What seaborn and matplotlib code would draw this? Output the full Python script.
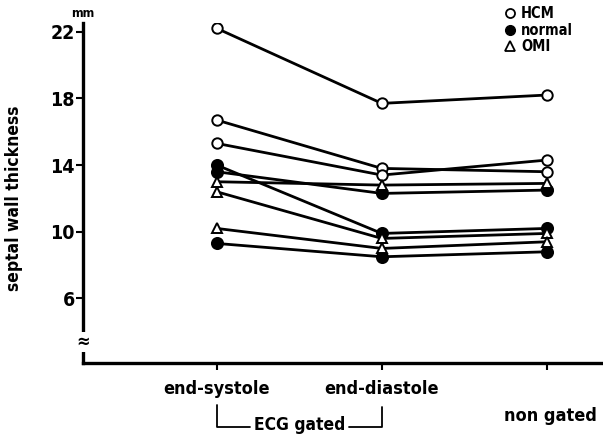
import numpy as np
import pandas as pd
import matplotlib
matplotlib.use("Agg")
import matplotlib.pyplot as plt
import matplotlib.transforms as mtransforms
from matplotlib.lines import Line2D
import seaborn as sns

# Daten (mm), eine Liste pro Patient: end-systole, end-diastole, non gated
phases = ["end-systole", "end-diastole", "non gated"]

hcm_1 = [22.2, 17.7, 18.2]
hcm_2 = [16.7, 13.8, 13.6]
hcm_3 = [15.3, 13.4, 14.3]

normal_1 = [14.0, 9.9, 10.2]
normal_2 = [13.6, 12.3, 12.5]
normal_3 = [9.3, 8.5, 8.8]

omi_1 = [13.0, 12.8, 12.9]
omi_2 = [12.4, 9.6, 9.9]
omi_3 = [10.2, 9.0, 9.4]

y_ticks = [6, 10, 14, 18, 22]

groups = {
    "HCM": [hcm_1, hcm_2, hcm_3],
    "normal": [normal_1, normal_2, normal_3],
    "OMI": [omi_1, omi_2, omi_3],
}

rows = []
for group, subjects in groups.items():
    for i, values in enumerate(subjects):
        for phase, v in zip(phases, values):
            rows.append({"group": group, "subject": f"{group}_{i}",
                         "pos": phases.index(phase), "value": v})
df = pd.DataFrame(rows)

sns.set_style("white")
plt.rcParams["font.family"] = ["DejaVu Sans"]
plt.rcParams["font.stretch"] = "condensed"
plt.rcParams["font.weight"] = "bold"
plt.rcParams["text.color"] = "black"
plt.rcParams["xtick.color"] = "black"
plt.rcParams["ytick.color"] = "black"
plt.rcParams["axes.labelcolor"] = "black"

styles = {
    "HCM":    dict(marker="o", markerfacecolor="white", markersize=7.5),
    "normal": dict(marker="o", markerfacecolor="black", markersize=8),
    "OMI":    dict(marker="^", markerfacecolor="white", markersize=7.5),
}

fig = plt.figure(figsize=(6.03, 4.41), dpi=100)
ax = fig.add_axes([83 / 603, 1 - 363 / 441, 1 - 83 / 603, 340 / 441])

for group in groups:
    sub = df[df["group"] == group]
    for subj, d in sub.groupby("subject"):
        sns.lineplot(
            data=d, x="pos", y="value",
            color="black", linewidth=2.0,
            markeredgecolor="black", markeredgewidth=1.4,
            ax=ax, legend=False, **styles[group]
        )

ax.set_xlim(-0.81, 2.34)
ax.set_ylim(2.13, 22.52)

for s in ["top", "right"]:
    ax.spines[s].set_visible(False)
for s in ["left", "bottom"]:
    ax.spines[s].set_linewidth(2.4)
    ax.spines[s].set_color("black")

ax.set_yticks(y_ticks)
ax.set_yticklabels([str(t) for t in y_ticks], fontsize=14, fontweight="bold")
ax.set_xticks([0, 1, 2])
ax.set_xticklabels(["end-systole", "end-diastole", ""], fontsize=13, fontweight="bold")
ax.tick_params(axis="both", direction="out", length=5, width=1.5, color="black",
               left=True, bottom=True)
ax.tick_params(axis="x", pad=7)
ax.tick_params(axis="y", pad=1)

ax.set_xlabel("")
ax.set_ylabel("septal wall thickness", fontsize=12.5, fontweight="bold")
ax.yaxis.set_label_coords(-0.115, 0.485)

# mm Einheit und Achsenbruch
ax.text(0.0, 1.01, "mm", transform=ax.transAxes, fontsize=9,
        fontweight="bold", ha="center", va="bottom")
ax.text(0.0, 0.062, "≈", transform=ax.transAxes, fontsize=13,
        ha="center", va="center",
        bbox=dict(facecolor="white", edgecolor="none", pad=0.5), clip_on=False)

# ECG gated Klammer
trans = mtransforms.blended_transform_factory(ax.transData, ax.transAxes)
ax.plot([0, 0, 0.2], [-0.124, -0.188, -0.188], transform=trans, color="black",
        linewidth=1.3, clip_on=False)
ax.plot([0.8, 1.0, 1.0], [-0.188, -0.188, -0.128], transform=trans, color="black",
        linewidth=1.3, clip_on=False)
ax.text(0.5, -0.182, "ECG gated", transform=trans, fontsize=12.5,
        fontweight="bold", ha="center", va="center")
ax.text(2.02, -0.156, "non gated", transform=trans, fontsize=13,
        fontweight="bold", ha="center", va="center")

# Legende
handles = [
    Line2D([], [], linestyle="none", marker="o", markerfacecolor="white",
           markeredgecolor="black", markeredgewidth=1.3, markersize=6.5),
    Line2D([], [], linestyle="none", marker="o", markerfacecolor="black",
           markeredgecolor="black", markersize=7),
    Line2D([], [], linestyle="none", marker="^", markerfacecolor="white",
           markeredgecolor="black", markeredgewidth=1.3, markersize=6.5),
]
leg = ax.legend(handles, ["HCM", "normal", "OMI"], loc="upper left",
                bbox_to_anchor=(0.795, 1.07), frameon=False, fontsize=10.5,
                handlelength=0.8, handletextpad=0.4, labelspacing=0.1,
                borderpad=0)
for t in leg.get_texts():
    t.set_fontweight("bold")

fig.savefig("out.png", dpi=100)
